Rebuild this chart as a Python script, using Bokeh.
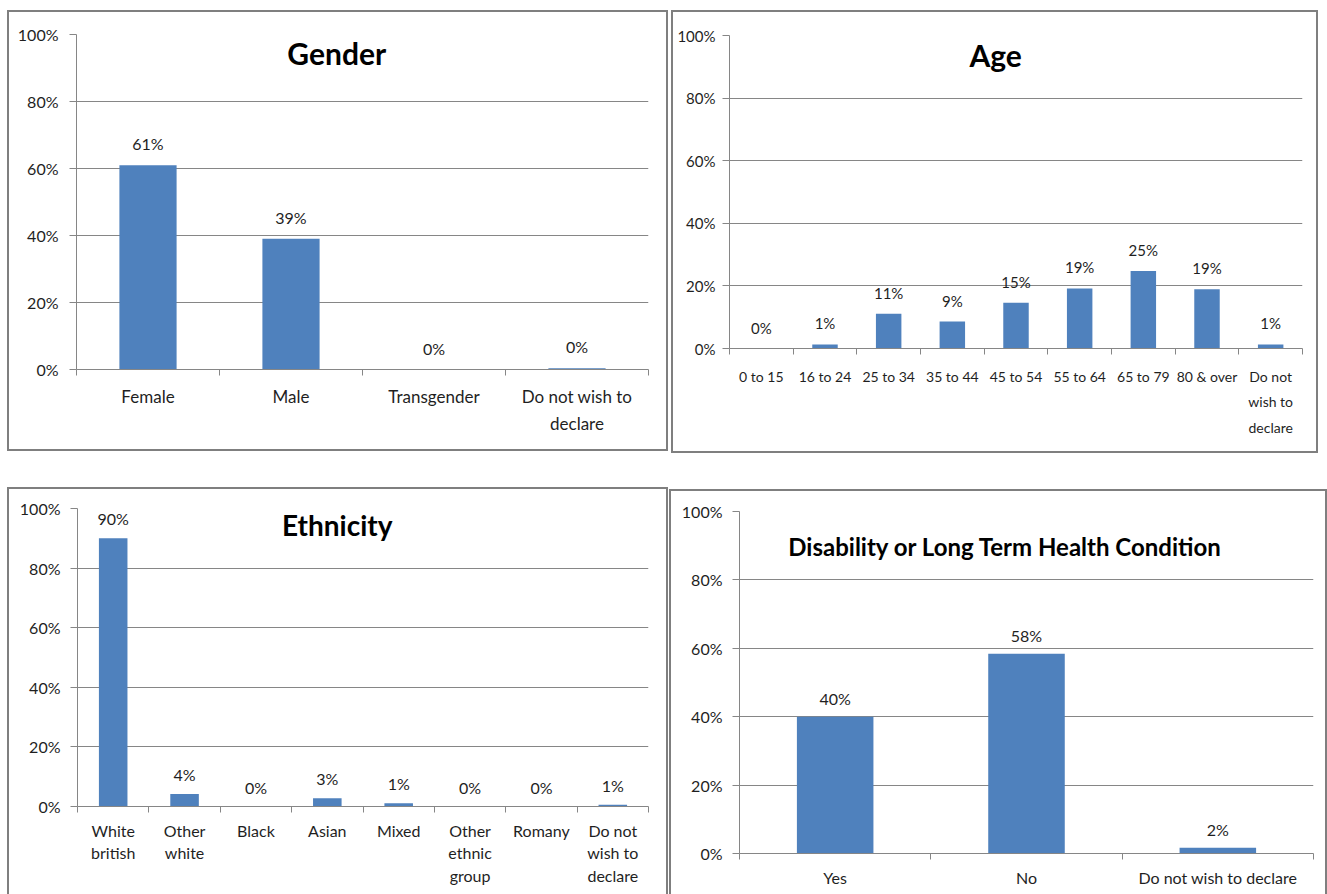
from bokeh.plotting import figure
from bokeh.layouts import column, row
from bokeh.models import Range1d, FixedTicker, Label, PrintfTickFormatter
from bokeh.embed import file_html
from bokeh.resources import INLINE
from bokeh.core.properties import value

# ---------------- data ----------------
gender_cats = ["Female", "Male", "Transgender", "Do not wish to declare"]
gender_ticklabels = ["Female", "Male", "Transgender", "Do not wish to\ndeclare"]
gender_vals = [61.0, 39.0, 0.0, 0.4]

age_cats = ["0 to 15", "16 to 24", "25 to 34", "35 to 44", "45 to 54",
            "55 to 64", "65 to 79", "80 & over", "Do not wish to declare"]
age_ticklabels = ["0 to 15", "16 to 24", "25 to 34", "35 to 44", "45 to 54",
                  "55 to 64", "65 to 79", "80 & over", "Do not\nwish to\ndeclare"]
age_vals = [0.0, 1.3, 11.1, 8.6, 14.6, 19.2, 24.8, 18.9, 1.3]

eth_cats = ["White british", "Other white", "Black", "Asian", "Mixed",
            "Other ethnic group", "Romany", "Do not wish to declare"]
eth_ticklabels = ["White\nbritish", "Other\nwhite", "Black", "Asian", "Mixed",
                  "Other\nethnic\ngroup", "Romany", "Do not\nwish to\ndeclare"]
eth_vals = [90.0, 4.2, 0.0, 2.8, 1.1, 0.0, 0.0, 0.6]

dis_cats = ["Yes", "No", "Do not wish to declare"]
dis_ticklabels = ["Yes", "No", "Do not wish to declare"]
dis_vals = [40.0, 58.4, 1.7]

y_ticks = [0, 20, 40, 60, 80, 100]

BAR = "#4F81BD"
GRID = "#868686"
TXT = "#1f1f1f"
FONT = "Lato"


def panel(cats, ticklabels, vals, title, *, w, h, margin, mb, tick_fs,
          xlab_fs, lab_fs, line_h, ystand, xstand, lab_off, title_xy, title_fs,
          border_style):
    n = len(cats)
    p = figure(width=w, height=h, x_range=Range1d(0, n), y_range=Range1d(0, 100),
               output_backend="svg", toolbar_location=None,
               min_border_left=mb[0], min_border_right=mb[1],
               min_border_top=mb[2], min_border_bottom=mb[3],
               outline_line_color=None, background_fill_color="white",
               border_fill_color="white", margin=margin,
               styles=border_style)
    p.frame_align = False
    xs = [i + 0.5 for i in range(n)]
    p.vbar(x=xs, top=vals, width=0.4, bottom=0, fill_color=BAR, line_color=None)
    p.text(x=xs, y=vals, text=[f"{v:.0f}%" for v in vals], text_align="center",
           text_baseline="bottom", y_offset=lab_off, text_font=value(FONT),
           text_font_size=f"{lab_fs}px", text_color=TXT)

    # y axis
    yax = p.yaxis[0]
    yax.ticker = FixedTicker(ticks=y_ticks)
    yax.formatter = PrintfTickFormatter(format="%d%%")
    yax.axis_line_color = GRID
    yax.major_tick_line_color = GRID
    yax.major_tick_out = 7
    yax.major_tick_in = 0
    yax.minor_tick_line_color = None
    yax.major_label_text_font = FONT
    yax.major_label_text_font_size = f"{tick_fs}px"
    yax.major_label_text_color = TXT
    yax.major_label_standoff = ystand

    # x axis: labels at category centres, tick marks at category boundaries
    xax = p.xaxis[0]
    xax.ticker = FixedTicker(ticks=xs, minor_ticks=list(range(n + 1)))
    xax.major_label_overrides = {x: t for x, t in zip(xs, ticklabels)}
    xax.axis_line_color = GRID
    xax.major_tick_line_color = None
    xax.major_tick_out = 0
    xax.major_tick_in = 0
    xax.minor_tick_line_color = GRID
    xax.minor_tick_out = 6
    xax.minor_tick_in = 0
    xax.major_label_text_font = FONT
    xax.major_label_text_font_size = f"{xlab_fs}px"
    xax.major_label_text_color = TXT
    xax.major_label_text_line_height = line_h
    xax.major_label_standoff = xstand

    p.ygrid.ticker = FixedTicker(ticks=y_ticks)
    p.ygrid.grid_line_color = GRID
    p.xgrid.visible = False

    p.add_layout(Label(x=title_xy[0], y=title_xy[1], text=title, text_align="center",
                       text_baseline="middle", text_font=FONT, text_font_style="bold",
                       text_font_size=f"{title_fs}px", text_color="black"))
    return p


full_border = {"border": "2px solid #7f7f7f", "box-sizing": "border-box"}
open_bottom = {"border": "2px solid #7f7f7f", "border-bottom": "none",
               "box-sizing": "border-box"}

p1 = panel(gender_cats, gender_ticklabels, gender_vals, "Gender",
           w=661, h=441, margin=(10, 0, 0, 7), mb=(67, 22, 22, 84),
           tick_fs=16, xlab_fs=17, lab_fs=16, line_h=1.32, ystand=11, xstand=10,
           lab_off=-12, title_xy=(1.82, 94.6), title_fs=30, border_style=full_border)

p2 = panel(age_cats, age_ticklabels, age_vals, "Age",
           w=647, h=443, margin=(10, 0, 0, 3), mb=(56, 18, 23, 107),
           tick_fs=15, xlab_fs=14, lab_fs=15, line_h=1.52, ystand=7, xstand=13,
           lab_off=-12, title_xy=(4.18, 93.9), title_fs=30, border_style=full_border)

p3 = panel(eth_cats, eth_ticklabels, eth_vals, "Ethnicity",
           w=661, h=407, margin=(34, 0, 0, 7), mb=(68, 22, 19, 90),
           tick_fs=16, xlab_fs=16, lab_fs=16, line_h=1.2, ystand=10, xstand=8,
           lab_off=-10, title_xy=(3.64, 94.6), title_fs=28, border_style=open_bottom)

p4 = panel(dis_cats, dis_ticklabels, dis_vals, "Disability or Long Term Health Condition",
           w=658, h=405, margin=(36, 0, 0, 1), mb=(68, 16, 20, 43),
           tick_fs=16, xlab_fs=16, lab_fs=16, line_h=1.2, ystand=10, xstand=8,
           lab_off=-9, title_xy=(1.39, 89.7), title_fs=24, border_style=open_bottom)

layout = column(row(p1, p2), row(p3, p4))

open("out.html", "w").write(file_html(layout, INLINE))
